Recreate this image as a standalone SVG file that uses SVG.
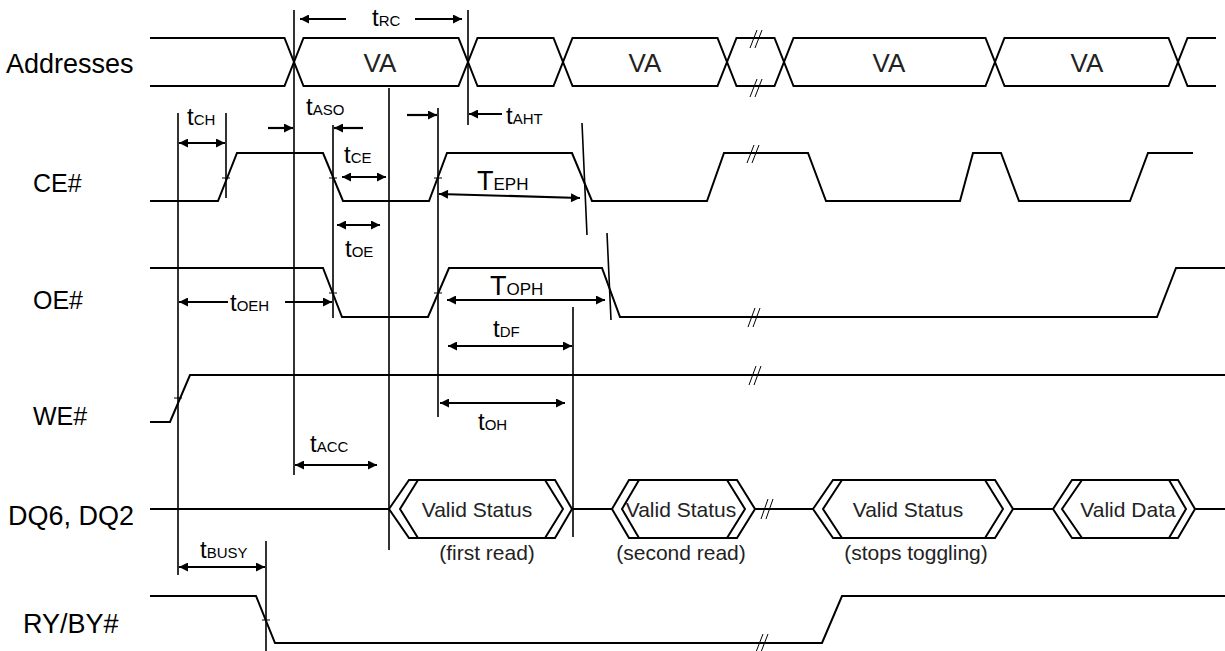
<svg xmlns="http://www.w3.org/2000/svg" width="1225" height="651" viewBox="0 0 1225 651">
<style>
.sig{fill:none;stroke:#000;stroke-width:2;stroke-linejoin:miter}
.vl{fill:none;stroke:#000;stroke-width:1.6}
.tk{fill:none;stroke:#000;stroke-width:1.2}
.br{fill:none;stroke:#000;stroke-width:1}
.ar{fill:none;stroke:#000;stroke-width:2.2}
.lbl{font-family:"Liberation Sans",Arial,sans-serif;font-size:25px;fill:#000}
.big{font-size:27px}
.tm{font-family:"Liberation Sans",Arial,sans-serif;font-size:24px;fill:#000}
.tm tspan{font-size:15px}
.hx{font-family:"Liberation Sans",Arial,sans-serif;font-size:21px;fill:#222;text-anchor:middle}
</style>
<defs>
<marker id="ah" viewBox="0 0 10 10" refX="10" refY="5" markerWidth="10" markerHeight="9" markerUnits="userSpaceOnUse" orient="auto-start-reverse"><path d="M0,0 L10,5 L0,10 z" fill="#000"/></marker>
</defs>

<g id="labels">
<text class="lbl big" x="6" y="73">Addresses</text>
<text class="lbl" x="33" y="192">CE#</text>
<text class="lbl" x="33" y="309">OE#</text>
<text class="lbl" x="33" y="425">WE#</text>
<text class="lbl big" x="8" y="525">DQ6, DQ2</text>
<text class="lbl big" x="23" y="633">RY/BY#</text>
</g>

<g id="addresses">
<path class="sig" d="M150,38 H284.5 L303.5,86 H458.5 L477.5,38 H553.5 L572.5,86 H717.5 L736.5,38 H774.5 L793.5,86 H985.5 L1004.5,38 H1168.5 L1187.5,86 H1216"/>
<path class="sig" d="M150,86 H284.5 L303.5,38 H458.5 L477.5,86 H553.5 L572.5,38 H717.5 L736.5,86 H774.5 L793.5,38 H985.5 L1004.5,86 H1168.5 L1187.5,38 H1216"/>
<text class="hx" x="380" y="72" style="font-size:26px">VA</text>
<text class="hx" x="645" y="72" style="font-size:26px">VA</text>
<text class="hx" x="889" y="72" style="font-size:26px">VA</text>
<text class="hx" x="1087" y="72" style="font-size:26px">VA</text>
<path class="br" d="M750,48 L757,30 M755,48 L762,30 M750,97 L757,79 M755,97 L762,79"/>
</g>

<g id="ce">
<path class="sig" d="M150,201 H218 L237,153 H323 L343,201 H429 L447,153 H572 L592,201 H707 L724,153 H808 L826,201 H960 L973,153 H1001 L1019,201 H1130 L1148,153 H1193"/>
<path class="br" d="M747,163 L754,145 M752,163 L759,145"/>
</g>

<g id="oe">
<path class="sig" d="M150,268 H323 L342,317 H428 L449,268 H602 L620,317 H1157 L1176,268 H1225"/>
<path class="br" d="M748,327 L755,308 M753,327 L760,308"/>
</g>

<g id="we">
<path class="sig" d="M150,422 H170 L190,375 H1225"/>
<path class="br" d="M749,385 L756,366 M754,385 L761,366"/>
</g>

<g id="dq">
<path class="sig" d="M150,509 H389 M572,509 H612 M755,509 H813 M1013,509 H1053 M1195,509 H1225"/>
<path class="sig" d="M389,509 L409,480 H555 L572,509 L555,538 H409 Z M418,480 L400,509 L418,538 M545,480 L563,509 L545,538"/>
<path class="sig" d="M612,509 L629,480 H737 L755,509 L737,538 H629 Z M639,480 L622,509 L639,538 M727,480 L745,509 L727,538"/>
<path class="sig" d="M813,509 L833,480 H995 L1013,509 L995,538 H833 Z M842,480 L823,509 L842,538 M985,480 L1003,509 L985,538"/>
<path class="sig" d="M1053,509 L1072,480 H1178 L1195,509 L1178,538 H1072 Z M1082,480 L1062,509 L1082,538 M1169,480 L1186,509 L1169,538"/>
<path class="br" d="M761,519 L768,499 M766,519 L773,499"/>
<text class="hx" x="477" y="517">Valid Status</text>
<text class="hx" x="681" y="517">Valid Status</text>
<text class="hx" x="908" y="517">Valid Status</text>
<text class="hx" x="1128" y="517">Valid Data</text>
<text class="hx" x="487" y="560">(first read)</text>
<text class="hx" x="681" y="560">(second read)</text>
<text class="hx" x="916" y="560">(stops toggling)</text>
</g>

<g id="rybY">
<path class="sig" d="M150,596 H256 L275,643 H822 L842,596 H1225"/>
<path class="br" d="M756,652 L763,634 M761,652 L768,634"/>
</g>

<g id="connectors">
<path class="vl" d="M178,113 V575 M226,113 V198 M294,10 V475 M333,125 V318 M389,88 V550 M438,108 V417 M468,10 V125 M573,307 V537 M266,541 V651 M582,123 L587,235 M607,233 L611,320"/>
<path class="tk" d="M222,178 H230 M329,178 H337 M434,178 H442 M329,293 H337 M434,293 H442 M174,398 H182 M262,620 H270"/>
<path class="ar" marker-end="url(#ah)" d="M346,19 H300"/>
<path class="ar" marker-end="url(#ah)" d="M415,19 H462"/>
<path class="ar" marker-start="url(#ah)" marker-end="url(#ah)" d="M179,143 H225"/>
<path class="ar" marker-end="url(#ah)" d="M268,128 H293"/>
<path class="ar" marker-end="url(#ah)" d="M363,128 H334"/>
<path class="ar" marker-end="url(#ah)" d="M407,115 H437"/>
<path class="ar" marker-end="url(#ah)" d="M502,114 H469"/>
<path class="ar" marker-start="url(#ah)" marker-end="url(#ah)" d="M342,177 H386"/>
<path class="ar" marker-start="url(#ah)" marker-end="url(#ah)" d="M337,225 H380"/>
<path class="ar" marker-start="url(#ah)" marker-end="url(#ah)" d="M439,194 L580,198"/>
<path class="ar" marker-end="url(#ah)" d="M228,302 H179"/>
<path class="ar" marker-end="url(#ah)" d="M285,302 H332"/>
<path class="ar" marker-start="url(#ah)" marker-end="url(#ah)" d="M447,300 H605"/>
<path class="ar" marker-start="url(#ah)" marker-end="url(#ah)" d="M448,346 H572"/>
<path class="ar" marker-start="url(#ah)" marker-end="url(#ah)" d="M440,403 H565"/>
<path class="ar" marker-start="url(#ah)" marker-end="url(#ah)" d="M295,465 H377"/>
<path class="ar" marker-start="url(#ah)" marker-end="url(#ah)" d="M179,567 H265"/>
</g>

<g id="timing-labels">
<text class="tm" x="372" y="26">t<tspan>RC</tspan></text>
<text class="tm" x="306" y="115">t<tspan>ASO</tspan></text>
<text class="tm" x="187" y="125">t<tspan>CH</tspan></text>
<text class="tm" x="506" y="124">t<tspan>AHT</tspan></text>
<text class="tm" x="344" y="163">t<tspan>CE</tspan></text>
<text class="tm" x="345" y="257">t<tspan>OE</tspan></text>
<text class="tm" x="477" y="190" style="font-size:27px">T<tspan style="font-size:17px">EPH</tspan></text>
<text class="tm" x="230" y="311">t<tspan>OEH</tspan></text>
<text class="tm" x="490" y="295" style="font-size:27px">T<tspan style="font-size:17px">OPH</tspan></text>
<text class="tm" x="493" y="337">t<tspan>DF</tspan></text>
<text class="tm" x="478" y="430">t<tspan>OH</tspan></text>
<text class="tm" x="310" y="452">t<tspan>ACC</tspan></text>
<text class="tm" x="200" y="558">t<tspan>BUSY</tspan></text>
</g>
</svg>
